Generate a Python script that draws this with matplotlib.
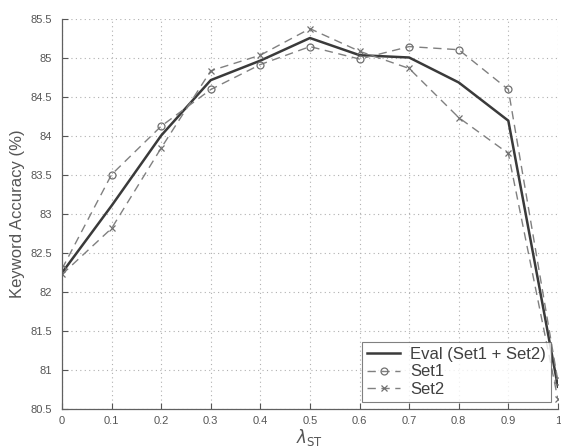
import matplotlib
matplotlib.use("Agg")
import matplotlib.pyplot as plt
import numpy as np

lam = [0.0, 0.1, 0.2, 0.3, 0.4, 0.5, 0.6, 0.7, 0.8, 0.9, 1.0]
eval_acc = [82.24, 83.10, 84.00, 84.71, 84.96, 85.25, 85.03, 85.00, 84.68, 84.19, 80.78]
set1_acc = [82.29, 83.50, 84.12, 84.59, 84.91, 85.14, 84.98, 85.14, 85.10, 84.59, 80.85]
set2_acc = [82.22, 82.81, 83.84, 84.83, 85.03, 85.37, 85.08, 84.86, 84.23, 83.77, 80.62]

xticks = [0, 0.1, 0.2, 0.3, 0.4, 0.5, 0.6, 0.7, 0.8, 0.9, 1]
xticklabels = ["0", "0.1", "0.2", "0.3", "0.4", "0.5", "0.6", "0.7", "0.8", "0.9", "1"]
yticks = [80.5, 81, 81.5, 82, 82.5, 83, 83.5, 84, 84.5, 85, 85.5]
yticklabels = ["80.5", "81", "81.5", "82", "82.5", "83", "83.5", "84", "84.5", "85", "85.5"]

plt.rcParams['font.family'] = ['Liberation Sans', 'DejaVu Sans']

fig = plt.figure(figsize=(5.61, 4.48), dpi=100)
ax = fig.add_axes([0.1105, 0.088, 0.884, 0.8707])

ax.plot(lam, eval_acc, '-', color='#3a3a3a', lw=1.8, label='Eval (Set1 + Set2)')
ax.plot(lam, set1_acc, '--', color='#808080', lw=1.0, marker='o', ms=5,
        mfc='none', mec='#707070', mew=0.9, dashes=(6, 4), label='Set1')
ax.plot(lam, set2_acc, '--', color='#808080', lw=1.0, marker='x', ms=4.5,
        mec='#707070', mew=0.9, dashes=(6, 4), label='Set2')

ax.set_xlim(0, 1)
ax.set_ylim(80.5, 85.5)
ax.set_xticks(xticks)
ax.set_xticklabels(xticklabels)
ax.set_yticks(yticks)
ax.set_yticklabels(yticklabels)
ax.tick_params(direction='in', length=4, colors='#555555', labelsize=8, width=0.8)
ax.tick_params(axis='y', pad=7)
ax.tick_params(axis='x', pad=5)

ax.grid(True, linestyle=(0, (1, 3)), color='#b0b0b0', lw=0.8)
for s in ['top', 'right']:
    ax.spines[s].set_visible(False)
for s in ['left', 'bottom']:
    ax.spines[s].set_color('#606060')
    ax.spines[s].set_linewidth(0.9)

ax.set_ylabel('Keyword Accuracy (%)', fontsize=12, color='#555555', labelpad=4)
ax.set_xlabel(r'$\lambda_{\mathrm{ST}}$', fontsize=12, color='#555555', labelpad=1)

leg = ax.legend(loc='lower right', fontsize=12, frameon=True, fancybox=False,
                edgecolor='#606060', borderpad=0.3, labelspacing=0.15,
                handlelength=2.0, handletextpad=0.6, borderaxespad=0.4)
leg.get_frame().set_linewidth(0.8)
for t in leg.get_texts():
    t.set_color('#404040')

fig.savefig('out.png', dpi=100)
